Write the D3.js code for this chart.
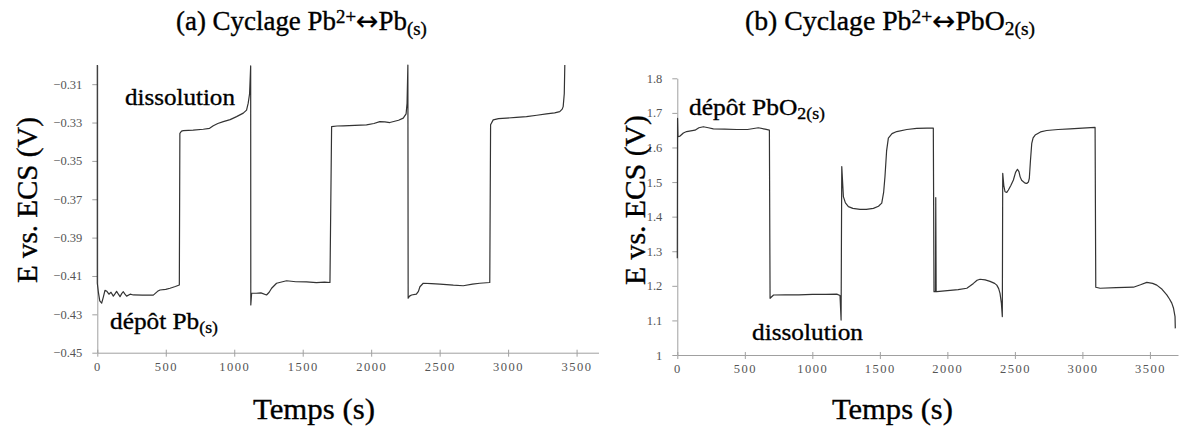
<!DOCTYPE html>
<html><head><meta charset="utf-8">
<script src="https://cdn.jsdelivr.net/npm/d3@7"></script>
<style>
body{margin:0;background:#fff;}
svg{display:block;}
</style></head>
<body>
<svg id="chart" width="1179" height="426"></svg>
<script>
// ---- Data ----
const xTicks = [0, 500, 1000, 1500, 2000, 2500, 3000, 3500];
const yTicksA = [-0.45, -0.43, -0.41, -0.39, -0.37, -0.35, -0.33, -0.31];
const yTicksB = [1, 1.1, 1.2, 1.3, 1.4, 1.5, 1.6, 1.7, 1.8];

const timeA = [0,0,8,18,32,44,56,70,85,100,117,130,141,154,166,178,190,202,214,240,263,330,409,440,458,500,531,570,599,603,615,628,700,774,820,847,880,920,970,1017,1066,1090,1102,1112,1120,1121,1127,1160,1195,1236,1255,1273,1309,1382,1450,1528,1600,1660,1699,1711,1750,1796,1880,1966,2020,2063,2100,2136,2200,2234,2255,2262,2268,2270,2280,2295,2330,2345,2356,2380,2440,2502,2600,2672,2740,2793,2866,2872,2891,2930,2988,3060,3134,3210,3280,3340,3377,3395,3402,3410,3414];
const potA = [-0.300,-0.4138,-0.4185,-0.4230,-0.4242,-0.4210,-0.4175,-0.4180,-0.4195,-0.4185,-0.4205,-0.4192,-0.4180,-0.4195,-0.4208,-0.4192,-0.4182,-0.4195,-0.4205,-0.4195,-0.4199,-0.4200,-0.4200,-0.418,-0.4173,-0.4170,-0.4164,-0.4155,-0.4147,-0.3356,-0.3345,-0.3342,-0.3340,-0.3335,-0.3330,-0.3317,-0.3305,-0.3295,-0.3285,-0.3269,-0.3251,-0.3235,-0.3199,-0.315,-0.3005,-0.4251,-0.4190,-0.4190,-0.4188,-0.4199,-0.4185,-0.4164,-0.4138,-0.4125,-0.4130,-0.4131,-0.4135,-0.4132,-0.4134,-0.3321,-0.3318,-0.3317,-0.3315,-0.3312,-0.3305,-0.3295,-0.3297,-0.3300,-0.3288,-0.3277,-0.3255,-0.320,-0.300,-0.4216,-0.4205,-0.4199,-0.4195,-0.4180,-0.4156,-0.4138,-0.4140,-0.4142,-0.4148,-0.4151,-0.4142,-0.4138,-0.4134,-0.3312,-0.3286,-0.3280,-0.3277,-0.3273,-0.3269,-0.3262,-0.3255,-0.3250,-0.3243,-0.3230,-0.3217,-0.315,-0.300];

const timeB = [0,2,5,20,45,69,100,131,160,193,230,267,350,440,520,600,650,682,687,713,800,900,1000,1100,1181,1205,1213,1218,1230,1245,1267,1300,1353,1400,1452,1490,1514,1528,1538,1550,1563,1590,1625,1700,1773,1850,1896,1901,1912,1914,1917,1921,2000,2080,2144,2170,2193,2220,2242,2280,2316,2350,2366,2380,2390,2400,2407,2410,2418,2427,2440,2452,2470,2489,2505,2519,2530,2539,2550,2563,2575,2588,2600,2607,2615,2625,2635,2650,2690,2736,2820,2909,3000,3094,3099,3131,3250,3378,3430,3477,3520,3551,3590,3625,3645,3662,3675,3686,3688];
const potB = [1.28,1.684,1.631,1.633,1.642,1.646,1.648,1.650,1.657,1.660,1.657,1.654,1.653,1.652,1.652,1.657,1.653,1.650,1.164,1.1735,1.174,1.174,1.175,1.175,1.176,1.172,1.101,1.545,1.458,1.440,1.429,1.424,1.421,1.421,1.424,1.430,1.439,1.470,1.516,1.590,1.627,1.640,1.646,1.652,1.655,1.656,1.656,1.183,1.183,1.455,1.183,1.183,1.186,1.189,1.193,1.200,1.207,1.216,1.219,1.217,1.213,1.207,1.202,1.192,1.178,1.150,1.111,1.525,1.490,1.472,1.470,1.477,1.490,1.506,1.528,1.537,1.530,1.515,1.505,1.501,1.497,1.496,1.500,1.511,1.560,1.612,1.628,1.636,1.645,1.649,1.652,1.654,1.656,1.658,1.196,1.193,1.195,1.196,1.203,1.210,1.207,1.202,1.190,1.174,1.162,1.150,1.135,1.111,1.077];

// ---- Drawing ----
const svg = d3.select("#chart");
const SERIF = "'Liberation Serif','Times New Roman',Times,serif";
const axisColor = "#a0a0a0", labelColor = "#555", lineColor = "#333";

function panel(opts) {
  const x = d3.scaleLinear().domain(opts.xDomain).range(opts.xRange);
  const y = d3.scaleLinear().domain(opts.yDomain).range(opts.yRange);
  const g = svg.append("g");

  const gx = g.append("g").attr("transform", `translate(0,${opts.yRange[0]})`)
    .call(d3.axisBottom(x).tickValues(xTicks).tickSize(4).tickSizeOuter(0).tickPadding(5).tickFormat(d3.format("d")));
  gx.attr("font-family", SERIF);
  gx.select(".domain").attr("stroke", axisColor);
  gx.selectAll(".tick line").attr("stroke", axisColor).attr("y1", -3);
  gx.selectAll(".tick text").attr("fill", labelColor).style("font-family", SERIF).attr("font-size", 12.5).attr("letter-spacing", "1.5px");

  const gy = g.append("g").attr("transform", `translate(${opts.xRange[0]},0)`)
    .call(d3.axisLeft(y).tickValues(opts.yTicks).tickSize(5).tickSizeOuter(0).tickPadding(10).tickFormat(opts.yFormat));
  gy.attr("font-family", SERIF);
  gy.select(".domain").attr("stroke", axisColor);
  gy.selectAll(".tick line").attr("stroke", axisColor);
  gy.selectAll(".tick text").attr("fill", labelColor).style("font-family", SERIF).attr("font-size", 12.5);

  const line = d3.line().x((d) => x(d[0])).y((d) => y(d[1]));
  const pts = opts.t.map((t, i) => [t, opts.v[i]]);
  g.append("path").datum(pts).attr("d", line)
    .attr("fill", "none").attr("stroke", lineColor).attr("stroke-width", 1.2).attr("stroke-linejoin", "round");
}

panel({xDomain:[0,3660], xRange:[97.3,598.5], yDomain:[-0.45,-0.30], yRange:[352.7,65],
  yTicks:yTicksA, yFormat:d3.format(".2f"), t:timeA, v:potA});
panel({xDomain:[0,3708], xRange:[677.3,1178], yDomain:[1,1.8], yRange:[355,78.3],
  yTicks:yTicksB, yFormat:(d)=>String(+d.toFixed(1)), t:timeB, v:potB});

function fitText(parts, left, base, width, size, rotate) {
  const g = svg.append("g");
  const t = g.append("text").style("font-family", SERIF).attr("font-size", size).attr("fill", "#000")
    .attr("stroke", "#000").attr("stroke-width", 0.35);
  parts.forEach(p => {
    const ts = t.append("tspan").text(p.s);
    if (p.sup) ts.attr("font-size", size*0.7).attr("baseline-shift", "35%");
    if (p.sub) ts.attr("font-size", size*0.7).attr("baseline-shift", "-25%");
    if (p.arrow) ts.style("font-family", "'DejaVu Sans'").attr("font-size", size*1.0).attr("stroke-width", 0.2);
  });
  const bb = t.node().getBBox();
  const sx = width / bb.width;
  if (rotate) {
    g.attr("transform", `translate(${left},${base}) rotate(-90) scale(${sx},1) translate(${-bb.x - bb.width/2},0)`);
  } else {
    g.attr("transform", `translate(${left},${base}) scale(${sx},1) translate(${-bb.x},0)`);
  }
}

fitText([{s:"(a) Cyclage Pb"},{s:"2+",sup:true},{s:"\u2194",arrow:true},{s:"Pb"},{s:"(s)",sub:true}], 176, 30, 251, 27);
fitText([{s:"(b) Cyclage Pb"},{s:"2+",sup:true},{s:"\u2194",arrow:true},{s:"PbO"},{s:"2(s)",sub:true}], 745, 30, 290, 27);
fitText([{s:"Temps (s)"}], 253, 419, 122, 30);
fitText([{s:"Temps (s)"}], 832, 419, 121, 30);
fitText([{s:"E vs. ECS (V)"}], 37, 200, 166, 30, true);
fitText([{s:"E vs. ECS (V)"}], 645, 200, 170, 30, true);
fitText([{s:"dissolution"}], 125, 105, 110, 24);
fitText([{s:"d\u00e9p\u00f4t Pb"},{s:"(s)",sub:true}], 110, 329, 108, 24);
fitText([{s:"d\u00e9p\u00f4t PbO"},{s:"2(s)",sub:true}], 689, 115, 136, 24);
fitText([{s:"dissolution"}], 752, 340, 111, 24);
</script>
</body></html>
